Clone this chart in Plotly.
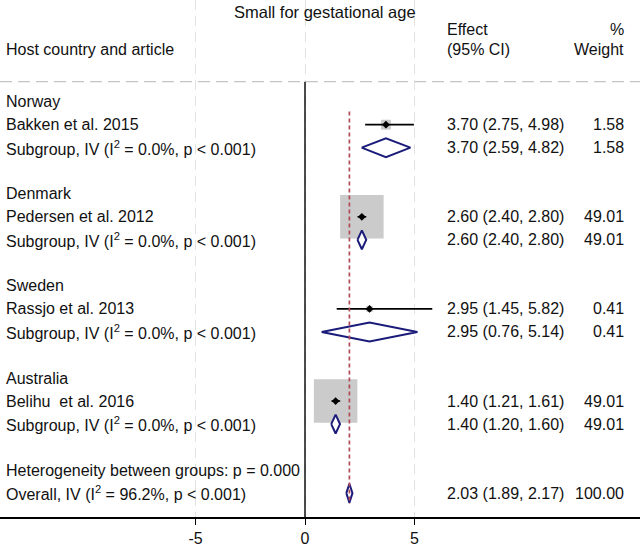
import plotly.graph_objects as go

# ---------------- data ----------------
countries = ["Norway", "Denmark", "Sweden", "Australia"]
studies = ["Bakken et al. 2015", "Pedersen et al. 2012", "Rassjo et al. 2013", "Belihu\u00a0 et al. 2016"]
study_est = [3.70, 2.60, 2.95, 1.40]
study_lo = [2.75, 2.40, 1.45, 1.21]
study_hi = [4.98, 2.80, 5.82, 1.61]
study_w = [1.58, 49.01, 0.41, 49.01]

sub_est = [3.70, 2.60, 2.95, 1.40]
sub_lo = [2.59, 2.40, 0.76, 1.20]
sub_hi = [4.82, 2.80, 5.14, 1.60]
sub_w = [1.58, 49.01, 0.41, 49.01]
sub_i2 = ["0.0", "0.0", "0.0", "0.0"]

overall_est = 2.03
overall_lo = 1.89
overall_hi = 2.17
overall_w = 100.00
overall_i2 = "96.2"
het_p = "0.000"

x_ticks = [-5, 0, 5]

# ---------------- layout helpers ----------------
W, H = 640, 547
PLOT_H = 519
FONT = "Liberation Sans, Arial, Helvetica, sans-serif"
TXT = "#111111"
NAVY = "#1b1b7a"
RED = "#b04a58"
BOX = "#b5b5b5"

def row_of_px(py):
    return (py - 78.9) / 23.12

ROW_TOP = row_of_px(0)
ROW_BOT = row_of_px(PLOT_H)
X_LEFT = -305 / 21.87
X_RIGHT = 335 / 21.87

rows_country = [1 + 4 * g for g in range(4)]
rows_study = [2 + 4 * g for g in range(4)]
rows_sub = [3 + 4 * g for g in range(4)]
row_het = 17
row_overall = 18

fig = go.Figure()

# boxes (area ~ weight)
max_w = max(study_w)
fig.add_trace(go.Scatter(
    x=study_est, y=rows_study, mode="markers",
    marker=dict(symbol="square", color=BOX, size=[41 * (w / max_w) ** 0.5 + 2.5 for w in study_w],
                line=dict(width=0)),
    hoverinfo="skip"))

# CI lines
for e, lo, hi, r in zip(study_est, study_lo, study_hi, rows_study):
    fig.add_trace(go.Scatter(x=[lo, hi], y=[r, r], mode="lines",
                             line=dict(color="black", width=1.6), hoverinfo="skip"))

# point estimates
fig.add_trace(go.Scatter(x=study_est, y=rows_study, mode="markers",
                         marker=dict(symbol="diamond", color="black", size=6), hoverinfo="skip"))

# diamonds
HALF = 0.41
def add_diamond(e, lo, hi, r):
    fig.add_trace(go.Scatter(
        x=[lo, e, hi, e, lo], y=[r, r - HALF, r, r + HALF, r], mode="lines",
        fill="toself", fillcolor="white", line=dict(color=NAVY, width=2), hoverinfo="skip"))

for e, lo, hi, r in zip(sub_est, sub_lo, sub_hi, rows_sub):
    add_diamond(e, lo, hi, r)
add_diamond(overall_est, overall_lo, overall_hi, row_overall)

# overall effect dashed line
fig.add_trace(go.Scatter(x=[overall_est, overall_est], y=[row_of_px(112), row_of_px(506)],
                         mode="lines", line=dict(color=RED, width=1.7, dash="4px,3px"),
                         hoverinfo="skip"))

shapes = [
    # header separator
    dict(type="line", xref="paper", yref="y", x0=0, x1=1, y0=row_of_px(82), y1=row_of_px(82),
         line=dict(color="#c4c4c4", width=1.3, dash="12px,6px"), layer="below"),
    # null line
    dict(type="line", xref="x", yref="y", x0=0, x1=0, y0=row_of_px(82), y1=ROW_BOT,
         line=dict(color="black", width=1.4), layer="above"),
]

ann = []
def txt(text, px, py, anchor="left", size=16):
    ann.append(dict(text=text, xref="paper", yref="y", x=px / W, y=row_of_px(py),
                    xanchor=anchor, yanchor="middle", showarrow=False,
                    font=dict(family=FONT, size=size, color=TXT)))

# header
txt("Small for gestational age", 325, 12, "center", 16.5)
txt("Effect", 445, 30)
txt("(95% CI)", 445, 50)
txt("%", 626, 30, "right")
txt("Weight", 626, 50, "right")
txt("Host country and article", 4, 50)

def y_px(r):
    return 78.9 + r * 23.12

for g in range(4):
    txt(countries[g], 4, y_px(rows_country[g]))
    txt(studies[g], 4, y_px(rows_study[g]))
    txt(f"{study_est[g]:.2f} ({study_lo[g]:.2f}, {study_hi[g]:.2f})", 445, y_px(rows_study[g]))
    txt(f"{study_w[g]:.2f}", 626, y_px(rows_study[g]), "right")
    txt(f"Subgroup, IV (I<sup>2</sup> = {sub_i2[g]}%, p < 0.001)", 4, y_px(rows_sub[g]))
    txt(f"{sub_est[g]:.2f} ({sub_lo[g]:.2f}, {sub_hi[g]:.2f})", 445, y_px(rows_sub[g]))
    txt(f"{sub_w[g]:.2f}", 626, y_px(rows_sub[g]), "right")

txt(f"Heterogeneity between groups: p = {het_p}", 4, y_px(row_het))
txt(f"Overall, IV (I<sup>2</sup> = {overall_i2}%, p < 0.001)", 4, y_px(row_overall))
txt(f"{overall_est:.2f} ({overall_lo:.2f}, {overall_hi:.2f})", 445, y_px(row_overall))
txt(f"{overall_w:.2f}", 626, y_px(row_overall), "right")

fig.update_layout(
    width=W, height=H, margin=dict(l=0, r=0, t=0, b=H - PLOT_H),
    paper_bgcolor="white", plot_bgcolor="white", showlegend=False,
    shapes=shapes, annotations=ann,
    xaxis=dict(range=[X_LEFT, X_RIGHT], tickvals=x_ticks, ticktext=[str(t) for t in x_ticks],
               showgrid=True, gridcolor="#e2e2e2", griddash="10px,6px", gridwidth=1.3,
               zeroline=False, showline=True, linecolor="black", linewidth=1.5,
               ticks="outside", ticklen=6, tickwidth=1.3, tickcolor="black",
               tickfont=dict(family=FONT, size=16, color=TXT), fixedrange=True),
    yaxis=dict(range=[ROW_BOT, ROW_TOP], visible=False, fixedrange=True),
)

fig.write_html("out.html")
